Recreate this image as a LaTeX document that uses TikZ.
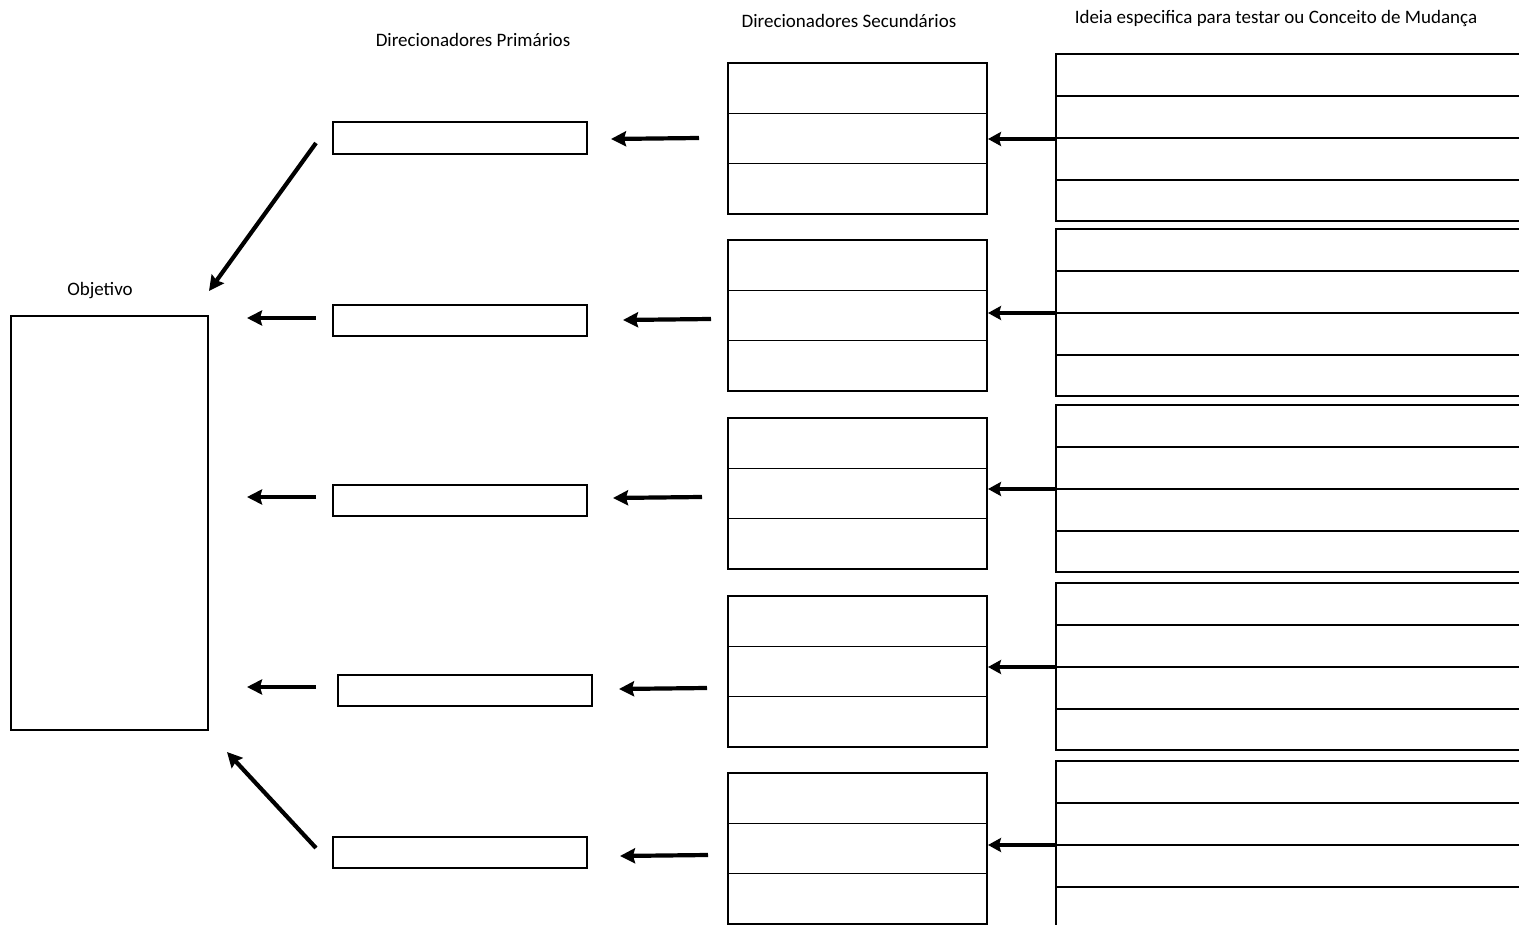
\documentclass[tikz,border=0pt]{standalone}
\usepackage{fontspec}
\setmainfont{Carlito}
\usetikzlibrary{arrows.meta}
\begin{document}
\begin{tikzpicture}[x=1pt,y=-1pt,
  boxline/.style={draw=black,line width=1.6pt,inner sep=0pt,outer sep=0pt,anchor=north west},
  divline/.style={draw=black,line width=1.3pt},
  bigarrow/.style={line width=4.2pt,-{Stealth[length=15pt,width=15pt,inset=2pt]}},
  smallarrow/.style={line width=4.2pt,-{Stealth[length=13pt,width=14pt,inset=2pt]}},
  title/.style={font=\fontsize{19}{21}\selectfont,inner sep=0pt}]
\useasboundingbox (0,0) rectangle (1519,925);
\clip (0,0) rectangle (1519,925);
% titles
\node[title] (tobj) at (100,291) {Objetivo};
\node[title] (tprim) at (473,40) {Direcionadores Primários};
\node[title] (tsec) at (849,21) {Direcionadores Secundários};
\node[title] (tidea) at (1276,19) {Ideia especifica para testar ou Conceito de Mudança};
% objective
\node[boxline,minimum width=197pt,minimum height=414pt] (obj) at (11,316) {};
% primary drivers
\node[boxline,minimum width=254pt,minimum height=32pt] (p1) at (333,122) {};
\node[boxline,minimum width=254pt,minimum height=31pt] (p2) at (333,305) {};
\node[boxline,minimum width=254pt,minimum height=31pt] (p3) at (333,485) {};
\node[boxline,minimum width=254pt,minimum height=31pt] (p4) at (338,675) {};
\node[boxline,minimum width=254pt,minimum height=31pt] (p5) at (333,837) {};
% secondary drivers
\foreach \i/\y in {1/63,2/240,3/418,4/596,5/773}{
  \node[boxline,minimum width=259pt,minimum height=151pt] (s\i) at (728,\y) {};
  \draw[divline] (728,\y+50.5) -- (987,\y+50.5);
  \draw[divline] (728,\y+100.5) -- (987,\y+100.5);
}
% ideas
\foreach \i/\y in {1/54,2/229,3/405,4/583,5/761}{
  \node[boxline,minimum width=480pt,minimum height=167pt] (c\i) at (1056,\y) {};
  \draw[divline] (1056,\y+42) -- (1536,\y+42);
  \draw[divline] (1056,\y+84) -- (1536,\y+84);
  \draw[divline] (1056,\y+126) -- (1536,\y+126);
}
% arrow end coordinates: primary -> objective
\coordinate (a1s) at (316,143); \coordinate (a1e) at (209,291);
\coordinate (a2s) at (316,318); \coordinate (a2e) at (247,318);
\coordinate (a3s) at (316,497); \coordinate (a3e) at (247,497);
\coordinate (a4s) at (316,687); \coordinate (a4e) at (247,687);
\coordinate (a5s) at (316,848); \coordinate (a5e) at (227,752);
\draw[bigarrow] (a1s) -- (a1e);
\draw[bigarrow] (a2s) -- (a2e);
\draw[bigarrow] (a3s) -- (a3e);
\draw[bigarrow] (a4s) -- (a4e);
\draw[bigarrow] (a5s) -- (a5e);
% secondary -> primary
\coordinate (b1s) at (699,138); \coordinate (b1e) at (611,139);
\coordinate (b2s) at (711,319); \coordinate (b2e) at (623,320);
\coordinate (b3s) at (702,497); \coordinate (b3e) at (613,498);
\coordinate (b4s) at (707,688); \coordinate (b4e) at (619,689);
\coordinate (b5s) at (708,855); \coordinate (b5e) at (620,856);
\foreach \i in {1,...,5}{\draw[bigarrow] (b\i s) -- (b\i e);}
% ideas -> secondary
\draw[smallarrow] (1056,139) -- (988,139);
\draw[smallarrow] (1056,313) -- (988,313);
\draw[smallarrow] (1056,489) -- (988,489);
\draw[smallarrow] (1056,667) -- (988,667);
\draw[smallarrow] (1056,845) -- (988,845);
\end{tikzpicture}
\end{document}
